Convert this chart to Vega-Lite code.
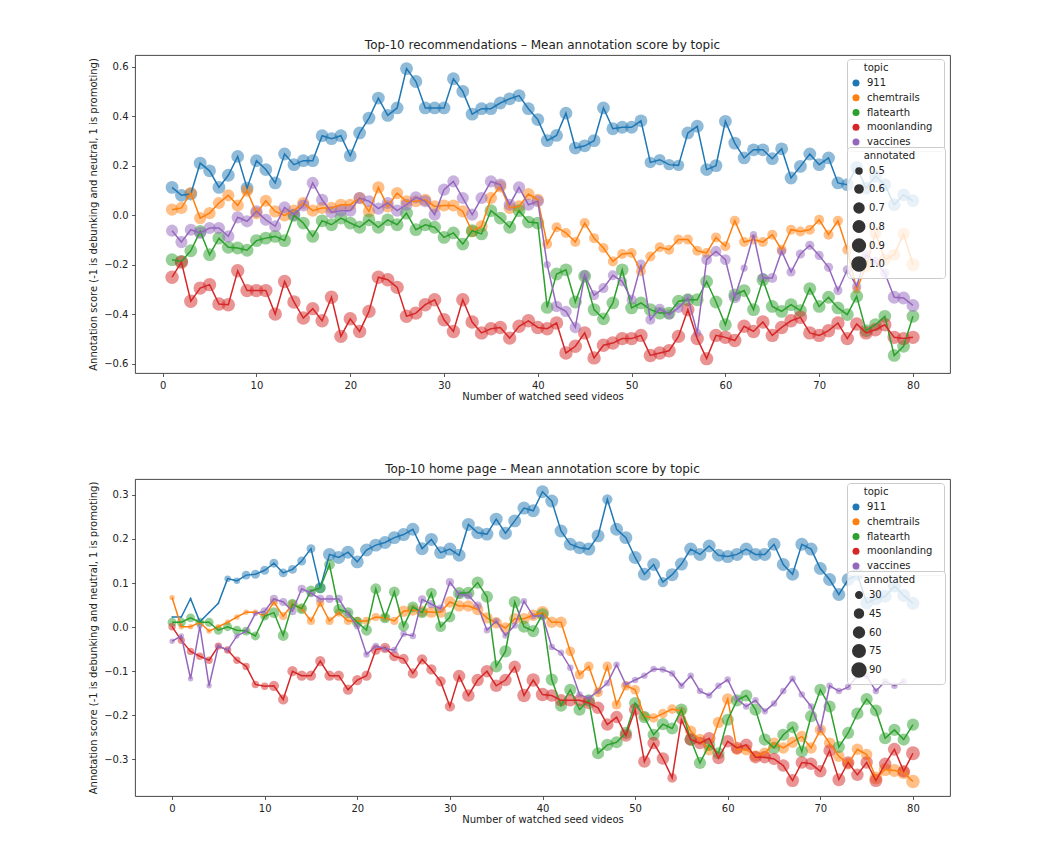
{
"$schema": "https://vega.github.io/schema/vega-lite/v6.json",
"background": "white",
"padding": {"left": 88, "top": 38, "right": 5, "bottom": 5},
"spacing": 60,
"resolve": {"scale": {"color": "independent", "size": "independent"}, "legend": {"color": "independent", "size": "independent"}},
"config": {
  "font": "DejaVu Sans",
  "view": {"stroke": "#333333", "strokeWidth": 0.9},
  "axis": {"domain": false, "grid": false, "tickColor": "#333333", "tickSize": 3.5, "tickWidth": 0.8, "labelFontSize": 10, "labelColor": "#222222", "labelPadding": 3.5, "titleFontSize": 10, "titleFontWeight": "normal", "titleColor": "#222222", "titlePadding": 1, "titleLimit": 1000, "labelFont": "DejaVu Sans", "titleFont": "DejaVu Sans"},
  "axisY": {"titlePadding": 5},
  "title": {"fontSize": 12, "fontWeight": "normal", "color": "#222222", "offset": 3, "font": "DejaVu Sans"},
  "legend": {"titleFontSize": 10, "titleFontWeight": "normal", "titleColor": "#222222", "labelFontSize": 10, "labelColor": "#222222", "labelFont": "DejaVu Sans", "titleFont": "DejaVu Sans", "fillColor": "rgba(255,255,255,0.8)", "strokeColor": "#cccccc", "cornerRadius": 3, "padding": 4, "titlePadding": 4, "labelLimit": 300, "titleLimit": 300}
},
"datasets": {
"top": [
{"topic":"911","n":1,"score":0.113,"annotated":0.9},{"topic":"911","n":2,"score":0.081,"annotated":0.9},{"topic":"911","n":3,"score":0.086,"annotated":0.9},{"topic":"911","n":4,"score":0.211,"annotated":0.9},{"topic":"911","n":5,"score":0.180,"annotated":0.9},{"topic":"911","n":6,"score":0.113,"annotated":0.9},{"topic":"911","n":7,"score":0.162,"annotated":0.9},{"topic":"911","n":8,"score":0.238,"annotated":0.9},{"topic":"911","n":9,"score":0.110,"annotated":0.9},{"topic":"911","n":10,"score":0.221,"annotated":0.9},
{"topic":"911","n":11,"score":0.185,"annotated":0.9},{"topic":"911","n":12,"score":0.131,"annotated":0.9},{"topic":"911","n":13,"score":0.248,"annotated":0.9},{"topic":"911","n":14,"score":0.205,"annotated":0.9},{"topic":"911","n":15,"score":0.221,"annotated":0.9},{"topic":"911","n":16,"score":0.221,"annotated":0.9},{"topic":"911","n":17,"score":0.322,"annotated":0.9},{"topic":"911","n":18,"score":0.310,"annotated":0.9},{"topic":"911","n":19,"score":0.322,"annotated":0.9},{"topic":"911","n":20,"score":0.241,"annotated":0.9},
{"topic":"911","n":21,"score":0.333,"annotated":0.9},{"topic":"911","n":22,"score":0.393,"annotated":0.9},{"topic":"911","n":23,"score":0.474,"annotated":0.9},{"topic":"911","n":24,"score":0.404,"annotated":0.9},{"topic":"911","n":25,"score":0.434,"annotated":0.9},{"topic":"911","n":26,"score":0.593,"annotated":0.9},{"topic":"911","n":27,"score":0.541,"annotated":0.9},{"topic":"911","n":28,"score":0.434,"annotated":0.9},{"topic":"911","n":29,"score":0.434,"annotated":0.9},{"topic":"911","n":30,"score":0.434,"annotated":0.9},
{"topic":"911","n":31,"score":0.552,"annotated":0.9},{"topic":"911","n":32,"score":0.501,"annotated":0.9},{"topic":"911","n":33,"score":0.409,"annotated":0.9},{"topic":"911","n":34,"score":0.431,"annotated":0.9},{"topic":"911","n":35,"score":0.431,"annotated":0.9},{"topic":"911","n":36,"score":0.454,"annotated":0.9},{"topic":"911","n":37,"score":0.471,"annotated":0.9},{"topic":"911","n":38,"score":0.484,"annotated":0.9},{"topic":"911","n":39,"score":0.431,"annotated":0.9},{"topic":"911","n":40,"score":0.387,"annotated":0.9},
{"topic":"911","n":41,"score":0.302,"annotated":0.9},{"topic":"911","n":42,"score":0.323,"annotated":0.9},{"topic":"911","n":43,"score":0.413,"annotated":0.9},{"topic":"911","n":44,"score":0.272,"annotated":0.9},{"topic":"911","n":45,"score":0.281,"annotated":0.9},{"topic":"911","n":46,"score":0.302,"annotated":0.9},{"topic":"911","n":47,"score":0.434,"annotated":0.9},{"topic":"911","n":48,"score":0.350,"annotated":0.9},{"topic":"911","n":49,"score":0.356,"annotated":0.9},{"topic":"911","n":50,"score":0.356,"annotated":0.9},
{"topic":"911","n":51,"score":0.382,"annotated":0.9},{"topic":"911","n":52,"score":0.214,"annotated":0.8},{"topic":"911","n":53,"score":0.225,"annotated":0.8},{"topic":"911","n":54,"score":0.205,"annotated":0.8},{"topic":"911","n":55,"score":0.202,"annotated":0.8},{"topic":"911","n":56,"score":0.333,"annotated":0.9},{"topic":"911","n":57,"score":0.360,"annotated":0.9},{"topic":"911","n":58,"score":0.185,"annotated":0.9},{"topic":"911","n":59,"score":0.201,"annotated":0.9},{"topic":"911","n":60,"score":0.380,"annotated":0.9},
{"topic":"911","n":61,"score":0.292,"annotated":0.9},{"topic":"911","n":62,"score":0.232,"annotated":0.9},{"topic":"911","n":63,"score":0.265,"annotated":0.9},{"topic":"911","n":64,"score":0.265,"annotated":0.9},{"topic":"911","n":65,"score":0.229,"annotated":0.9},{"topic":"911","n":66,"score":0.269,"annotated":0.9},{"topic":"911","n":67,"score":0.151,"annotated":0.9},{"topic":"911","n":68,"score":0.198,"annotated":0.9},{"topic":"911","n":69,"score":0.248,"annotated":0.9},{"topic":"911","n":70,"score":0.205,"annotated":0.9},
{"topic":"911","n":71,"score":0.232,"annotated":0.9},{"topic":"911","n":72,"score":0.131,"annotated":0.9},{"topic":"911","n":73,"score":0.124,"annotated":0.9},{"topic":"911","n":74,"score":0.194,"annotated":0.9},{"topic":"911","n":75,"score":0.110,"annotated":0.9},{"topic":"911","n":76,"score":0.158,"annotated":0.9},{"topic":"911","n":77,"score":0.124,"annotated":0.9},{"topic":"911","n":78,"score":0.043,"annotated":0.9},{"topic":"911","n":79,"score":0.083,"annotated":0.9},{"topic":"911","n":80,"score":0.059,"annotated":0.9},

{"topic":"chemtrails","n":1,"score":0.023,"annotated":0.85},{"topic":"chemtrails","n":2,"score":0.030,"annotated":0.85},{"topic":"chemtrails","n":3,"score":0.090,"annotated":0.85},{"topic":"chemtrails","n":4,"score":-0.011,"annotated":0.85},{"topic":"chemtrails","n":5,"score":0.009,"annotated":0.85},{"topic":"chemtrails","n":6,"score":0.050,"annotated":0.85},{"topic":"chemtrails","n":7,"score":0.081,"annotated":0.85},{"topic":"chemtrails","n":8,"score":0.040,"annotated":0.85},{"topic":"chemtrails","n":9,"score":0.100,"annotated":0.85},{"topic":"chemtrails","n":10,"score":0.009,"annotated":0.85},
{"topic":"chemtrails","n":11,"score":0.059,"annotated":0.85},{"topic":"chemtrails","n":12,"score":0.016,"annotated":0.85},{"topic":"chemtrails","n":13,"score":0.000,"annotated":0.85},{"topic":"chemtrails","n":14,"score":0.019,"annotated":0.85},{"topic":"chemtrails","n":15,"score":0.050,"annotated":0.85},{"topic":"chemtrails","n":16,"score":0.019,"annotated":0.85},{"topic":"chemtrails","n":17,"score":0.030,"annotated":0.85},{"topic":"chemtrails","n":18,"score":0.030,"annotated":0.85},{"topic":"chemtrails","n":19,"score":0.043,"annotated":0.85},{"topic":"chemtrails","n":20,"score":0.043,"annotated":0.85},
{"topic":"chemtrails","n":21,"score":0.070,"annotated":0.85},{"topic":"chemtrails","n":22,"score":0.016,"annotated":0.85},{"topic":"chemtrails","n":23,"score":0.113,"annotated":0.85},{"topic":"chemtrails","n":24,"score":0.036,"annotated":0.85},{"topic":"chemtrails","n":25,"score":0.090,"annotated":0.85},{"topic":"chemtrails","n":26,"score":0.057,"annotated":0.85},{"topic":"chemtrails","n":27,"score":0.057,"annotated":0.85},{"topic":"chemtrails","n":28,"score":0.063,"annotated":0.85},{"topic":"chemtrails","n":29,"score":0.036,"annotated":0.85},{"topic":"chemtrails","n":30,"score":0.040,"annotated":0.85},
{"topic":"chemtrails","n":31,"score":0.040,"annotated":0.85},{"topic":"chemtrails","n":32,"score":0.016,"annotated":0.85},{"topic":"chemtrails","n":33,"score":-0.065,"annotated":0.85},{"topic":"chemtrails","n":34,"score":-0.044,"annotated":0.85},{"topic":"chemtrails","n":35,"score":0.070,"annotated":0.85},{"topic":"chemtrails","n":36,"score":0.117,"annotated":0.85},{"topic":"chemtrails","n":37,"score":0.030,"annotated":0.85},{"topic":"chemtrails","n":38,"score":0.036,"annotated":0.85},{"topic":"chemtrails","n":39,"score":0.086,"annotated":0.85},{"topic":"chemtrails","n":40,"score":0.063,"annotated":0.85},
{"topic":"chemtrails","n":41,"score":-0.116,"annotated":0.7},{"topic":"chemtrails","n":42,"score":-0.048,"annotated":0.7},{"topic":"chemtrails","n":43,"score":-0.071,"annotated":0.7},{"topic":"chemtrails","n":44,"score":-0.108,"annotated":0.7},{"topic":"chemtrails","n":45,"score":-0.031,"annotated":0.7},{"topic":"chemtrails","n":46,"score":-0.092,"annotated":0.7},{"topic":"chemtrails","n":47,"score":-0.132,"annotated":0.7},{"topic":"chemtrails","n":48,"score":-0.186,"annotated":0.7},{"topic":"chemtrails","n":49,"score":-0.156,"annotated":0.7},{"topic":"chemtrails","n":50,"score":-0.152,"annotated":0.7},
{"topic":"chemtrails","n":51,"score":-0.226,"annotated":0.7},{"topic":"chemtrails","n":52,"score":-0.166,"annotated":0.7},{"topic":"chemtrails","n":53,"score":-0.129,"annotated":0.7},{"topic":"chemtrails","n":54,"score":-0.139,"annotated":0.7},{"topic":"chemtrails","n":55,"score":-0.098,"annotated":0.7},{"topic":"chemtrails","n":56,"score":-0.098,"annotated":0.7},{"topic":"chemtrails","n":57,"score":-0.143,"annotated":0.7},{"topic":"chemtrails","n":58,"score":-0.152,"annotated":0.7},{"topic":"chemtrails","n":59,"score":-0.089,"annotated":0.7},{"topic":"chemtrails","n":60,"score":-0.125,"annotated":0.7},
{"topic":"chemtrails","n":61,"score":-0.022,"annotated":0.7},{"topic":"chemtrails","n":62,"score":-0.108,"annotated":0.7},{"topic":"chemtrails","n":63,"score":-0.098,"annotated":0.7},{"topic":"chemtrails","n":64,"score":-0.108,"annotated":0.7},{"topic":"chemtrails","n":65,"score":-0.078,"annotated":0.7},{"topic":"chemtrails","n":66,"score":-0.139,"annotated":0.7},{"topic":"chemtrails","n":67,"score":-0.058,"annotated":0.7},{"topic":"chemtrails","n":68,"score":-0.065,"annotated":0.7},{"topic":"chemtrails","n":69,"score":-0.058,"annotated":0.7},{"topic":"chemtrails","n":70,"score":-0.018,"annotated":0.7},
{"topic":"chemtrails","n":71,"score":-0.078,"annotated":0.7},{"topic":"chemtrails","n":72,"score":-0.022,"annotated":0.7},{"topic":"chemtrails","n":73,"score":-0.139,"annotated":0.7},{"topic":"chemtrails","n":74,"score":-0.300,"annotated":0.6},{"topic":"chemtrails","n":75,"score":-0.206,"annotated":0.85},{"topic":"chemtrails","n":76,"score":-0.071,"annotated":0.85},{"topic":"chemtrails","n":77,"score":-0.179,"annotated":0.85},{"topic":"chemtrails","n":78,"score":-0.159,"annotated":0.85},{"topic":"chemtrails","n":79,"score":-0.075,"annotated":0.85},{"topic":"chemtrails","n":80,"score":-0.199,"annotated":0.95},

{"topic":"flatearth","n":1,"score":-0.179,"annotated":0.9},{"topic":"flatearth","n":2,"score":-0.186,"annotated":0.9},{"topic":"flatearth","n":3,"score":-0.143,"annotated":0.9},{"topic":"flatearth","n":4,"score":-0.065,"annotated":0.9},{"topic":"flatearth","n":5,"score":-0.159,"annotated":0.9},{"topic":"flatearth","n":6,"score":-0.092,"annotated":0.9},{"topic":"flatearth","n":7,"score":-0.129,"annotated":0.9},{"topic":"flatearth","n":8,"score":-0.132,"annotated":0.9},{"topic":"flatearth","n":9,"score":-0.141,"annotated":0.9},{"topic":"flatearth","n":10,"score":-0.102,"annotated":0.9},
{"topic":"flatearth","n":11,"score":-0.092,"annotated":0.9},{"topic":"flatearth","n":12,"score":-0.085,"annotated":0.9},{"topic":"flatearth","n":13,"score":-0.102,"annotated":0.9},{"topic":"flatearth","n":14,"score":0.000,"annotated":0.9},{"topic":"flatearth","n":15,"score":-0.031,"annotated":0.9},{"topic":"flatearth","n":16,"score":-0.085,"annotated":0.9},{"topic":"flatearth","n":17,"score":-0.022,"annotated":0.9},{"topic":"flatearth","n":18,"score":-0.038,"annotated":0.9},{"topic":"flatearth","n":19,"score":-0.011,"annotated":0.9},{"topic":"flatearth","n":20,"score":-0.031,"annotated":0.9},
{"topic":"flatearth","n":21,"score":-0.048,"annotated":0.9},{"topic":"flatearth","n":22,"score":-0.018,"annotated":0.9},{"topic":"flatearth","n":23,"score":-0.048,"annotated":0.9},{"topic":"flatearth","n":24,"score":-0.018,"annotated":0.9},{"topic":"flatearth","n":25,"score":-0.038,"annotated":0.9},{"topic":"flatearth","n":26,"score":0.009,"annotated":0.9},{"topic":"flatearth","n":27,"score":-0.058,"annotated":0.9},{"topic":"flatearth","n":28,"score":-0.038,"annotated":0.9},{"topic":"flatearth","n":29,"score":-0.048,"annotated":0.9},{"topic":"flatearth","n":30,"score":-0.089,"annotated":0.9},
{"topic":"flatearth","n":31,"score":-0.071,"annotated":0.9},{"topic":"flatearth","n":32,"score":-0.116,"annotated":0.9},{"topic":"flatearth","n":33,"score":-0.062,"annotated":0.9},{"topic":"flatearth","n":34,"score":-0.075,"annotated":0.9},{"topic":"flatearth","n":35,"score":0.019,"annotated":0.9},{"topic":"flatearth","n":36,"score":-0.011,"annotated":0.9},{"topic":"flatearth","n":37,"score":-0.048,"annotated":0.9},{"topic":"flatearth","n":38,"score":0.019,"annotated":0.9},{"topic":"flatearth","n":39,"score":-0.027,"annotated":0.9},{"topic":"flatearth","n":40,"score":-0.031,"annotated":0.9},
{"topic":"flatearth","n":41,"score":-0.372,"annotated":0.9},{"topic":"flatearth","n":42,"score":-0.237,"annotated":0.9},{"topic":"flatearth","n":43,"score":-0.220,"annotated":0.9},{"topic":"flatearth","n":44,"score":-0.350,"annotated":0.9},{"topic":"flatearth","n":45,"score":-0.246,"annotated":0.9},{"topic":"flatearth","n":46,"score":-0.381,"annotated":0.9},{"topic":"flatearth","n":47,"score":-0.418,"annotated":0.9},{"topic":"flatearth","n":48,"score":-0.354,"annotated":0.9},{"topic":"flatearth","n":49,"score":-0.220,"annotated":0.9},{"topic":"flatearth","n":50,"score":-0.374,"annotated":0.9},
{"topic":"flatearth","n":51,"score":-0.354,"annotated":0.9},{"topic":"flatearth","n":52,"score":-0.381,"annotated":0.9},{"topic":"flatearth","n":53,"score":-0.395,"annotated":0.9},{"topic":"flatearth","n":54,"score":-0.395,"annotated":0.9},{"topic":"flatearth","n":55,"score":-0.347,"annotated":0.9},{"topic":"flatearth","n":56,"score":-0.341,"annotated":0.9},{"topic":"flatearth","n":57,"score":-0.341,"annotated":0.9},{"topic":"flatearth","n":58,"score":-0.267,"annotated":0.9},{"topic":"flatearth","n":59,"score":-0.350,"annotated":0.9},{"topic":"flatearth","n":60,"score":-0.442,"annotated":0.9},
{"topic":"flatearth","n":61,"score":-0.321,"annotated":0.9},{"topic":"flatearth","n":62,"score":-0.304,"annotated":0.9},{"topic":"flatearth","n":63,"score":-0.381,"annotated":0.9},{"topic":"flatearth","n":64,"score":-0.260,"annotated":0.9},{"topic":"flatearth","n":65,"score":-0.368,"annotated":0.9},{"topic":"flatearth","n":66,"score":-0.388,"annotated":0.9},{"topic":"flatearth","n":67,"score":-0.361,"annotated":0.9},{"topic":"flatearth","n":68,"score":-0.385,"annotated":0.9},{"topic":"flatearth","n":69,"score":-0.296,"annotated":0.9},{"topic":"flatearth","n":70,"score":-0.368,"annotated":0.9},
{"topic":"flatearth","n":71,"score":-0.331,"annotated":0.9},{"topic":"flatearth","n":72,"score":-0.374,"annotated":0.9},{"topic":"flatearth","n":73,"score":-0.401,"annotated":0.9},{"topic":"flatearth","n":74,"score":-0.327,"annotated":0.9},{"topic":"flatearth","n":75,"score":-0.466,"annotated":0.9},{"topic":"flatearth","n":76,"score":-0.442,"annotated":0.9},{"topic":"flatearth","n":77,"score":-0.408,"annotated":0.9},{"topic":"flatearth","n":78,"score":-0.566,"annotated":0.9},{"topic":"flatearth","n":79,"score":-0.529,"annotated":0.9},{"topic":"flatearth","n":80,"score":-0.408,"annotated":0.9},

{"topic":"moonlanding","n":1,"score":-0.250,"annotated":0.95},{"topic":"moonlanding","n":2,"score":-0.189,"annotated":0.95},{"topic":"moonlanding","n":3,"score":-0.347,"annotated":0.95},{"topic":"moonlanding","n":4,"score":-0.294,"annotated":0.95},{"topic":"moonlanding","n":5,"score":-0.280,"annotated":0.95},{"topic":"moonlanding","n":6,"score":-0.358,"annotated":0.95},{"topic":"moonlanding","n":7,"score":-0.361,"annotated":0.95},{"topic":"moonlanding","n":8,"score":-0.224,"annotated":0.95},{"topic":"moonlanding","n":9,"score":-0.304,"annotated":0.95},{"topic":"moonlanding","n":10,"score":-0.304,"annotated":0.95},
{"topic":"moonlanding","n":11,"score":-0.304,"annotated":0.95},{"topic":"moonlanding","n":12,"score":-0.399,"annotated":0.95},{"topic":"moonlanding","n":13,"score":-0.267,"annotated":0.95},{"topic":"moonlanding","n":14,"score":-0.350,"annotated":0.95},{"topic":"moonlanding","n":15,"score":-0.415,"annotated":0.95},{"topic":"moonlanding","n":16,"score":-0.377,"annotated":0.95},{"topic":"moonlanding","n":17,"score":-0.426,"annotated":0.95},{"topic":"moonlanding","n":18,"score":-0.331,"annotated":0.95},{"topic":"moonlanding","n":19,"score":-0.489,"annotated":0.95},{"topic":"moonlanding","n":20,"score":-0.418,"annotated":0.95},
{"topic":"moonlanding","n":21,"score":-0.469,"annotated":0.95},{"topic":"moonlanding","n":22,"score":-0.388,"annotated":0.95},{"topic":"moonlanding","n":23,"score":-0.250,"annotated":0.95},{"topic":"moonlanding","n":24,"score":-0.260,"annotated":0.95},{"topic":"moonlanding","n":25,"score":-0.291,"annotated":0.95},{"topic":"moonlanding","n":26,"score":-0.408,"annotated":0.95},{"topic":"moonlanding","n":27,"score":-0.395,"annotated":0.95},{"topic":"moonlanding","n":28,"score":-0.361,"annotated":0.95},{"topic":"moonlanding","n":29,"score":-0.341,"annotated":0.95},{"topic":"moonlanding","n":30,"score":-0.422,"annotated":0.95},
{"topic":"moonlanding","n":31,"score":-0.469,"annotated":0.95},{"topic":"moonlanding","n":32,"score":-0.341,"annotated":0.95},{"topic":"moonlanding","n":33,"score":-0.431,"annotated":0.95},{"topic":"moonlanding","n":34,"score":-0.475,"annotated":0.95},{"topic":"moonlanding","n":35,"score":-0.458,"annotated":0.95},{"topic":"moonlanding","n":36,"score":-0.453,"annotated":0.95},{"topic":"moonlanding","n":37,"score":-0.496,"annotated":0.95},{"topic":"moonlanding","n":38,"score":-0.448,"annotated":0.95},{"topic":"moonlanding","n":39,"score":-0.426,"annotated":0.95},{"topic":"moonlanding","n":40,"score":-0.453,"annotated":0.95},
{"topic":"moonlanding","n":41,"score":-0.458,"annotated":0.95},{"topic":"moonlanding","n":42,"score":-0.435,"annotated":0.95},{"topic":"moonlanding","n":43,"score":-0.556,"annotated":0.95},{"topic":"moonlanding","n":44,"score":-0.529,"annotated":0.95},{"topic":"moonlanding","n":45,"score":-0.475,"annotated":0.95},{"topic":"moonlanding","n":46,"score":-0.576,"annotated":0.95},{"topic":"moonlanding","n":47,"score":-0.525,"annotated":0.95},{"topic":"moonlanding","n":48,"score":-0.516,"annotated":0.95},{"topic":"moonlanding","n":49,"score":-0.498,"annotated":0.95},{"topic":"moonlanding","n":50,"score":-0.498,"annotated":0.95},
{"topic":"moonlanding","n":51,"score":-0.485,"annotated":0.95},{"topic":"moonlanding","n":52,"score":-0.566,"annotated":0.95},{"topic":"moonlanding","n":53,"score":-0.556,"annotated":0.95},{"topic":"moonlanding","n":54,"score":-0.547,"annotated":0.95},{"topic":"moonlanding","n":55,"score":-0.489,"annotated":0.95},{"topic":"moonlanding","n":56,"score":-0.381,"annotated":0.95},{"topic":"moonlanding","n":57,"score":-0.498,"annotated":0.95},{"topic":"moonlanding","n":58,"score":-0.579,"annotated":0.95},{"topic":"moonlanding","n":59,"score":-0.485,"annotated":0.95},{"topic":"moonlanding","n":60,"score":-0.493,"annotated":0.95},
{"topic":"moonlanding","n":61,"score":-0.506,"annotated":0.95},{"topic":"moonlanding","n":62,"score":-0.448,"annotated":0.95},{"topic":"moonlanding","n":63,"score":-0.469,"annotated":0.95},{"topic":"moonlanding","n":64,"score":-0.431,"annotated":0.95},{"topic":"moonlanding","n":65,"score":-0.485,"annotated":0.95},{"topic":"moonlanding","n":66,"score":-0.453,"annotated":0.95},{"topic":"moonlanding","n":67,"score":-0.426,"annotated":0.95},{"topic":"moonlanding","n":68,"score":-0.412,"annotated":0.95},{"topic":"moonlanding","n":69,"score":-0.475,"annotated":0.95},{"topic":"moonlanding","n":70,"score":-0.485,"annotated":0.95},
{"topic":"moonlanding","n":71,"score":-0.466,"annotated":0.95},{"topic":"moonlanding","n":72,"score":-0.435,"annotated":0.95},{"topic":"moonlanding","n":73,"score":-0.498,"annotated":0.95},{"topic":"moonlanding","n":74,"score":-0.439,"annotated":0.95},{"topic":"moonlanding","n":75,"score":-0.475,"annotated":0.95},{"topic":"moonlanding","n":76,"score":-0.462,"annotated":0.95},{"topic":"moonlanding","n":77,"score":-0.442,"annotated":0.95},{"topic":"moonlanding","n":78,"score":-0.493,"annotated":0.95},{"topic":"moonlanding","n":79,"score":-0.498,"annotated":0.95},{"topic":"moonlanding","n":80,"score":-0.493,"annotated":0.95},

{"topic":"vaccines","n":1,"score":-0.062,"annotated":0.85},{"topic":"vaccines","n":2,"score":-0.108,"annotated":0.85},{"topic":"vaccines","n":3,"score":-0.058,"annotated":0.85},{"topic":"vaccines","n":4,"score":-0.071,"annotated":0.85},{"topic":"vaccines","n":5,"score":-0.051,"annotated":0.85},{"topic":"vaccines","n":6,"score":-0.051,"annotated":0.85},{"topic":"vaccines","n":7,"score":-0.085,"annotated":0.85},{"topic":"vaccines","n":8,"score":-0.008,"annotated":0.85},{"topic":"vaccines","n":9,"score":-0.024,"annotated":0.85},{"topic":"vaccines","n":10,"score":0.016,"annotated":0.85},
{"topic":"vaccines","n":11,"score":-0.018,"annotated":0.85},{"topic":"vaccines","n":12,"score":-0.044,"annotated":0.85},{"topic":"vaccines","n":13,"score":0.032,"annotated":0.85},{"topic":"vaccines","n":14,"score":0.003,"annotated":0.85},{"topic":"vaccines","n":15,"score":0.040,"annotated":0.85},{"topic":"vaccines","n":16,"score":0.131,"annotated":0.85},{"topic":"vaccines","n":17,"score":0.063,"annotated":0.85},{"topic":"vaccines","n":18,"score":0.013,"annotated":0.85},{"topic":"vaccines","n":19,"score":0.019,"annotated":0.85},{"topic":"vaccines","n":20,"score":0.019,"annotated":0.85},
{"topic":"vaccines","n":21,"score":0.070,"annotated":0.85},{"topic":"vaccines","n":22,"score":0.057,"annotated":0.85},{"topic":"vaccines","n":23,"score":0.027,"annotated":0.85},{"topic":"vaccines","n":24,"score":0.050,"annotated":0.85},{"topic":"vaccines","n":25,"score":0.019,"annotated":0.85},{"topic":"vaccines","n":26,"score":0.043,"annotated":0.85},{"topic":"vaccines","n":27,"score":0.073,"annotated":0.85},{"topic":"vaccines","n":28,"score":0.057,"annotated":0.85},{"topic":"vaccines","n":29,"score":0.003,"annotated":0.85},{"topic":"vaccines","n":30,"score":0.104,"annotated":0.85},
{"topic":"vaccines","n":31,"score":0.137,"annotated":0.85},{"topic":"vaccines","n":32,"score":0.070,"annotated":0.85},{"topic":"vaccines","n":33,"score":0.003,"annotated":0.85},{"topic":"vaccines","n":34,"score":0.070,"annotated":0.85},{"topic":"vaccines","n":35,"score":0.137,"annotated":0.85},{"topic":"vaccines","n":36,"score":0.124,"annotated":0.85},{"topic":"vaccines","n":37,"score":0.043,"annotated":0.85},{"topic":"vaccines","n":38,"score":0.113,"annotated":0.85},{"topic":"vaccines","n":39,"score":0.043,"annotated":0.85},{"topic":"vaccines","n":40,"score":0.057,"annotated":0.85},
{"topic":"vaccines","n":41,"score":-0.199,"annotated":0.55},{"topic":"vaccines","n":42,"score":-0.368,"annotated":0.8},{"topic":"vaccines","n":43,"score":-0.388,"annotated":0.8},{"topic":"vaccines","n":44,"score":-0.453,"annotated":0.8},{"topic":"vaccines","n":45,"score":-0.242,"annotated":0.7},{"topic":"vaccines","n":46,"score":-0.323,"annotated":0.7},{"topic":"vaccines","n":47,"score":-0.294,"annotated":0.7},{"topic":"vaccines","n":48,"score":-0.242,"annotated":0.7},{"topic":"vaccines","n":49,"score":-0.267,"annotated":0.7},{"topic":"vaccines","n":50,"score":-0.341,"annotated":0.7},
{"topic":"vaccines","n":51,"score":-0.199,"annotated":0.7},{"topic":"vaccines","n":52,"score":-0.422,"annotated":0.7},{"topic":"vaccines","n":53,"score":-0.377,"annotated":0.7},{"topic":"vaccines","n":54,"score":-0.401,"annotated":0.7},{"topic":"vaccines","n":55,"score":-0.374,"annotated":0.7},{"topic":"vaccines","n":56,"score":-0.334,"annotated":0.6},{"topic":"vaccines","n":57,"score":-0.475,"annotated":0.6},{"topic":"vaccines","n":58,"score":-0.179,"annotated":0.75},{"topic":"vaccines","n":59,"score":-0.145,"annotated":0.75},{"topic":"vaccines","n":60,"score":-0.179,"annotated":0.75},
{"topic":"vaccines","n":61,"score":-0.331,"annotated":0.85},{"topic":"vaccines","n":62,"score":-0.213,"annotated":0.55},{"topic":"vaccines","n":63,"score":-0.078,"annotated":0.55},{"topic":"vaccines","n":64,"score":-0.253,"annotated":0.7},{"topic":"vaccines","n":65,"score":-0.253,"annotated":0.7},{"topic":"vaccines","n":66,"score":-0.145,"annotated":0.65},{"topic":"vaccines","n":67,"score":-0.229,"annotated":0.65},{"topic":"vaccines","n":68,"score":-0.156,"annotated":0.65},{"topic":"vaccines","n":69,"score":-0.121,"annotated":0.65},{"topic":"vaccines","n":70,"score":-0.162,"annotated":0.65},
{"topic":"vaccines","n":71,"score":-0.210,"annotated":0.65},{"topic":"vaccines","n":72,"score":-0.304,"annotated":0.65},{"topic":"vaccines","n":73,"score":-0.220,"annotated":0.65},{"topic":"vaccines","n":74,"score":-0.287,"annotated":0.65},{"topic":"vaccines","n":75,"score":-0.159,"annotated":0.65},{"topic":"vaccines","n":76,"score":-0.186,"annotated":0.65},{"topic":"vaccines","n":77,"score":-0.233,"annotated":0.65},{"topic":"vaccines","n":78,"score":-0.331,"annotated":0.9},{"topic":"vaccines","n":79,"score":-0.334,"annotated":0.9},{"topic":"vaccines","n":80,"score":-0.364,"annotated":0.9}
],
"bottom": [
{"topic":"911","n":0,"score":0.023,"annotated":15},{"topic":"911","n":1,"score":0.023,"annotated":15},{"topic":"911","n":2,"score":0.065,"annotated":15},{"topic":"911","n":3,"score":0.012,"annotated":15},{"topic":"911","n":4,"score":0.033,"annotated":15},{"topic":"911","n":5,"score":0.054,"annotated":15},{"topic":"911","n":6,"score":0.110,"annotated":30},{"topic":"911","n":7,"score":0.105,"annotated":30},{"topic":"911","n":8,"score":0.118,"annotated":45},{"topic":"911","n":9,"score":0.120,"annotated":45},
{"topic":"911","n":10,"score":0.129,"annotated":45},{"topic":"911","n":11,"score":0.145,"annotated":45},{"topic":"911","n":12,"score":0.123,"annotated":45},{"topic":"911","n":13,"score":0.131,"annotated":45},{"topic":"911","n":14,"score":0.150,"annotated":45},{"topic":"911","n":15,"score":0.178,"annotated":45},{"topic":"911","n":16,"score":0.089,"annotated":60},{"topic":"911","n":17,"score":0.165,"annotated":80},{"topic":"911","n":18,"score":0.158,"annotated":80},{"topic":"911","n":19,"score":0.170,"annotated":80},
{"topic":"911","n":20,"score":0.148,"annotated":80},{"topic":"911","n":21,"score":0.175,"annotated":80},{"topic":"911","n":22,"score":0.186,"annotated":80},{"topic":"911","n":23,"score":0.192,"annotated":80},{"topic":"911","n":24,"score":0.203,"annotated":80},{"topic":"911","n":25,"score":0.210,"annotated":80},{"topic":"911","n":26,"score":0.222,"annotated":80},{"topic":"911","n":27,"score":0.178,"annotated":80},{"topic":"911","n":28,"score":0.199,"annotated":80},{"topic":"911","n":29,"score":0.169,"annotated":80},
{"topic":"911","n":30,"score":0.177,"annotated":80},{"topic":"911","n":31,"score":0.163,"annotated":80},{"topic":"911","n":32,"score":0.233,"annotated":80},{"topic":"911","n":33,"score":0.214,"annotated":80},{"topic":"911","n":34,"score":0.211,"annotated":80},{"topic":"911","n":35,"score":0.245,"annotated":80},{"topic":"911","n":36,"score":0.213,"annotated":80},{"topic":"911","n":37,"score":0.241,"annotated":80},{"topic":"911","n":38,"score":0.270,"annotated":80},{"topic":"911","n":39,"score":0.264,"annotated":80},
{"topic":"911","n":40,"score":0.307,"annotated":80},{"topic":"911","n":41,"score":0.286,"annotated":80},{"topic":"911","n":42,"score":0.218,"annotated":80},{"topic":"911","n":43,"score":0.188,"annotated":80},{"topic":"911","n":44,"score":0.180,"annotated":80},{"topic":"911","n":45,"score":0.177,"annotated":80},{"topic":"911","n":46,"score":0.207,"annotated":80},{"topic":"911","n":47,"score":0.290,"annotated":55},{"topic":"911","n":48,"score":0.222,"annotated":80},{"topic":"911","n":49,"score":0.203,"annotated":80},
{"topic":"911","n":50,"score":0.158,"annotated":80},{"topic":"911","n":51,"score":0.120,"annotated":80},{"topic":"911","n":52,"score":0.142,"annotated":80},{"topic":"911","n":53,"score":0.102,"annotated":55},{"topic":"911","n":54,"score":0.119,"annotated":80},{"topic":"911","n":55,"score":0.143,"annotated":80},{"topic":"911","n":56,"score":0.177,"annotated":80},{"topic":"911","n":57,"score":0.165,"annotated":80},{"topic":"911","n":58,"score":0.184,"annotated":80},{"topic":"911","n":59,"score":0.163,"annotated":80},
{"topic":"911","n":60,"score":0.160,"annotated":80},{"topic":"911","n":61,"score":0.165,"annotated":80},{"topic":"911","n":62,"score":0.177,"annotated":80},{"topic":"911","n":63,"score":0.165,"annotated":80},{"topic":"911","n":64,"score":0.165,"annotated":80},{"topic":"911","n":65,"score":0.188,"annotated":80},{"topic":"911","n":66,"score":0.142,"annotated":80},{"topic":"911","n":67,"score":0.120,"annotated":80},{"topic":"911","n":68,"score":0.188,"annotated":80},{"topic":"911","n":69,"score":0.177,"annotated":80},
{"topic":"911","n":70,"score":0.133,"annotated":80},{"topic":"911","n":71,"score":0.108,"annotated":80},{"topic":"911","n":72,"score":0.074,"annotated":80},{"topic":"911","n":73,"score":0.108,"annotated":80},{"topic":"911","n":74,"score":0.120,"annotated":80},{"topic":"911","n":75,"score":0.055,"annotated":80},{"topic":"911","n":76,"score":0.064,"annotated":80},{"topic":"911","n":77,"score":0.070,"annotated":80},{"topic":"911","n":78,"score":0.093,"annotated":80},{"topic":"911","n":79,"score":0.072,"annotated":80},{"topic":"911","n":80,"score":0.054,"annotated":80},

{"topic":"chemtrails","n":0,"score":0.067,"annotated":25},{"topic":"chemtrails","n":1,"score":0.001,"annotated":25},{"topic":"chemtrails","n":2,"score":0.001,"annotated":25},{"topic":"chemtrails","n":3,"score":0.011,"annotated":25},{"topic":"chemtrails","n":4,"score":-0.009,"annotated":25},{"topic":"chemtrails","n":5,"score":0.001,"annotated":25},{"topic":"chemtrails","n":6,"score":0.011,"annotated":25},{"topic":"chemtrails","n":7,"score":0.023,"annotated":25},{"topic":"chemtrails","n":8,"score":0.034,"annotated":25},{"topic":"chemtrails","n":9,"score":0.034,"annotated":25},
{"topic":"chemtrails","n":10,"score":0.025,"annotated":25},{"topic":"chemtrails","n":11,"score":0.057,"annotated":40},{"topic":"chemtrails","n":12,"score":0.025,"annotated":40},{"topic":"chemtrails","n":13,"score":0.052,"annotated":40},{"topic":"chemtrails","n":14,"score":0.042,"annotated":40},{"topic":"chemtrails","n":15,"score":0.014,"annotated":40},{"topic":"chemtrails","n":16,"score":0.055,"annotated":40},{"topic":"chemtrails","n":17,"score":0.014,"annotated":40},{"topic":"chemtrails","n":18,"score":0.033,"annotated":40},{"topic":"chemtrails","n":19,"score":0.014,"annotated":40},
{"topic":"chemtrails","n":20,"score":0.014,"annotated":40},{"topic":"chemtrails","n":21,"score":0.014,"annotated":40},{"topic":"chemtrails","n":22,"score":0.023,"annotated":40},{"topic":"chemtrails","n":23,"score":0.021,"annotated":40},{"topic":"chemtrails","n":24,"score":0.014,"annotated":40},{"topic":"chemtrails","n":25,"score":0.036,"annotated":65},{"topic":"chemtrails","n":26,"score":0.039,"annotated":65},{"topic":"chemtrails","n":27,"score":0.036,"annotated":65},{"topic":"chemtrails","n":28,"score":0.034,"annotated":65},{"topic":"chemtrails","n":29,"score":0.034,"annotated":65},
{"topic":"chemtrails","n":30,"score":0.057,"annotated":65},{"topic":"chemtrails","n":31,"score":0.048,"annotated":65},{"topic":"chemtrails","n":32,"score":0.048,"annotated":65},{"topic":"chemtrails","n":33,"score":0.040,"annotated":65},{"topic":"chemtrails","n":34,"score":0.021,"annotated":65},{"topic":"chemtrails","n":35,"score":0.010,"annotated":65},{"topic":"chemtrails","n":36,"score":-0.002,"annotated":65},{"topic":"chemtrails","n":37,"score":0.019,"annotated":65},{"topic":"chemtrails","n":38,"score":0.019,"annotated":65},{"topic":"chemtrails","n":39,"score":0.027,"annotated":65},
{"topic":"chemtrails","n":40,"score":0.033,"annotated":80},{"topic":"chemtrails","n":41,"score":0.011,"annotated":65},{"topic":"chemtrails","n":42,"score":0.011,"annotated":65},{"topic":"chemtrails","n":43,"score":-0.055,"annotated":50},{"topic":"chemtrails","n":44,"score":-0.108,"annotated":50},{"topic":"chemtrails","n":45,"score":-0.089,"annotated":50},{"topic":"chemtrails","n":46,"score":-0.148,"annotated":50},{"topic":"chemtrails","n":47,"score":-0.089,"annotated":50},{"topic":"chemtrails","n":48,"score":-0.176,"annotated":50},{"topic":"chemtrails","n":49,"score":-0.133,"annotated":50},
{"topic":"chemtrails","n":50,"score":-0.142,"annotated":50},{"topic":"chemtrails","n":51,"score":-0.202,"annotated":50},{"topic":"chemtrails","n":52,"score":-0.206,"annotated":50},{"topic":"chemtrails","n":53,"score":-0.196,"annotated":50},{"topic":"chemtrails","n":54,"score":-0.186,"annotated":50},{"topic":"chemtrails","n":55,"score":-0.191,"annotated":50},{"topic":"chemtrails","n":56,"score":-0.236,"annotated":65},{"topic":"chemtrails","n":57,"score":-0.255,"annotated":65},{"topic":"chemtrails","n":58,"score":-0.278,"annotated":65},{"topic":"chemtrails","n":59,"score":-0.216,"annotated":65},
{"topic":"chemtrails","n":60,"score":-0.163,"annotated":65},{"topic":"chemtrails","n":61,"score":-0.277,"annotated":65},{"topic":"chemtrails","n":62,"score":-0.278,"annotated":65},{"topic":"chemtrails","n":63,"score":-0.292,"annotated":65},{"topic":"chemtrails","n":64,"score":-0.286,"annotated":65},{"topic":"chemtrails","n":65,"score":-0.263,"annotated":65},{"topic":"chemtrails","n":66,"score":-0.274,"annotated":65},{"topic":"chemtrails","n":67,"score":-0.261,"annotated":65},{"topic":"chemtrails","n":68,"score":-0.248,"annotated":65},{"topic":"chemtrails","n":69,"score":-0.274,"annotated":65},
{"topic":"chemtrails","n":70,"score":-0.233,"annotated":65},{"topic":"chemtrails","n":71,"score":-0.263,"annotated":65},{"topic":"chemtrails","n":72,"score":-0.293,"annotated":65},{"topic":"chemtrails","n":73,"score":-0.310,"annotated":65},{"topic":"chemtrails","n":74,"score":-0.277,"annotated":65},{"topic":"chemtrails","n":75,"score":-0.289,"annotated":65},{"topic":"chemtrails","n":76,"score":-0.342,"annotated":80},{"topic":"chemtrails","n":77,"score":-0.323,"annotated":80},{"topic":"chemtrails","n":78,"score":-0.325,"annotated":80},{"topic":"chemtrails","n":79,"score":-0.330,"annotated":80},{"topic":"chemtrails","n":80,"score":-0.350,"annotated":85},

{"topic":"flatearth","n":0,"score":0.011,"annotated":45},{"topic":"flatearth","n":1,"score":0.011,"annotated":45},{"topic":"flatearth","n":2,"score":0.021,"annotated":45},{"topic":"flatearth","n":3,"score":0.011,"annotated":45},{"topic":"flatearth","n":4,"score":0.011,"annotated":45},{"topic":"flatearth","n":5,"score":-0.007,"annotated":45},{"topic":"flatearth","n":6,"score":0.001,"annotated":45},{"topic":"flatearth","n":7,"score":-0.007,"annotated":45},{"topic":"flatearth","n":8,"score":-0.009,"annotated":45},{"topic":"flatearth","n":9,"score":-0.020,"annotated":45},
{"topic":"flatearth","n":10,"score":0.025,"annotated":45},{"topic":"flatearth","n":11,"score":0.033,"annotated":60},{"topic":"flatearth","n":12,"score":-0.019,"annotated":60},{"topic":"flatearth","n":13,"score":0.052,"annotated":60},{"topic":"flatearth","n":14,"score":0.042,"annotated":60},{"topic":"flatearth","n":15,"score":0.082,"annotated":60},{"topic":"flatearth","n":16,"score":0.089,"annotated":60},{"topic":"flatearth","n":17,"score":0.142,"annotated":60},{"topic":"flatearth","n":18,"score":0.040,"annotated":60},{"topic":"flatearth","n":19,"score":0.033,"annotated":60},
{"topic":"flatearth","n":20,"score":0.011,"annotated":60},{"topic":"flatearth","n":21,"score":-0.007,"annotated":60},{"topic":"flatearth","n":22,"score":0.087,"annotated":60},{"topic":"flatearth","n":23,"score":0.021,"annotated":60},{"topic":"flatearth","n":24,"score":0.080,"annotated":60},{"topic":"flatearth","n":25,"score":0.002,"annotated":60},{"topic":"flatearth","n":26,"score":0.046,"annotated":60},{"topic":"flatearth","n":27,"score":0.033,"annotated":60},{"topic":"flatearth","n":28,"score":0.077,"annotated":60},{"topic":"flatearth","n":29,"score":0.001,"annotated":60},
{"topic":"flatearth","n":30,"score":0.023,"annotated":60},{"topic":"flatearth","n":31,"score":0.077,"annotated":72},{"topic":"flatearth","n":32,"score":0.078,"annotated":72},{"topic":"flatearth","n":33,"score":0.101,"annotated":72},{"topic":"flatearth","n":34,"score":0.069,"annotated":72},{"topic":"flatearth","n":35,"score":-0.089,"annotated":72},{"topic":"flatearth","n":36,"score":-0.055,"annotated":72},{"topic":"flatearth","n":37,"score":0.057,"annotated":72},{"topic":"flatearth","n":38,"score":0.001,"annotated":72},{"topic":"flatearth","n":39,"score":-0.009,"annotated":72},
{"topic":"flatearth","n":40,"score":0.029,"annotated":72},{"topic":"flatearth","n":41,"score":-0.119,"annotated":72},{"topic":"flatearth","n":42,"score":-0.178,"annotated":72},{"topic":"flatearth","n":43,"score":-0.142,"annotated":72},{"topic":"flatearth","n":44,"score":-0.187,"annotated":72},{"topic":"flatearth","n":45,"score":-0.166,"annotated":72},{"topic":"flatearth","n":46,"score":-0.286,"annotated":72},{"topic":"flatearth","n":47,"score":-0.267,"annotated":72},{"topic":"flatearth","n":48,"score":-0.261,"annotated":72},{"topic":"flatearth","n":49,"score":-0.240,"annotated":72},
{"topic":"flatearth","n":50,"score":-0.172,"annotated":72},{"topic":"flatearth","n":51,"score":-0.204,"annotated":72},{"topic":"flatearth","n":52,"score":-0.244,"annotated":72},{"topic":"flatearth","n":53,"score":-0.220,"annotated":72},{"topic":"flatearth","n":54,"score":-0.230,"annotated":72},{"topic":"flatearth","n":55,"score":-0.187,"annotated":72},{"topic":"flatearth","n":56,"score":-0.255,"annotated":72},{"topic":"flatearth","n":57,"score":-0.308,"annotated":72},{"topic":"flatearth","n":58,"score":-0.267,"annotated":72},{"topic":"flatearth","n":59,"score":-0.286,"annotated":72},
{"topic":"flatearth","n":60,"score":-0.210,"annotated":72},{"topic":"flatearth","n":61,"score":-0.166,"annotated":72},{"topic":"flatearth","n":62,"score":-0.155,"annotated":72},{"topic":"flatearth","n":63,"score":-0.187,"annotated":72},{"topic":"flatearth","n":64,"score":-0.255,"annotated":72},{"topic":"flatearth","n":65,"score":-0.274,"annotated":72},{"topic":"flatearth","n":66,"score":-0.244,"annotated":72},{"topic":"flatearth","n":67,"score":-0.227,"annotated":72},{"topic":"flatearth","n":68,"score":-0.282,"annotated":72},{"topic":"flatearth","n":69,"score":-0.202,"annotated":72},
{"topic":"flatearth","n":70,"score":-0.142,"annotated":72},{"topic":"flatearth","n":71,"score":-0.180,"annotated":72},{"topic":"flatearth","n":72,"score":-0.272,"annotated":72},{"topic":"flatearth","n":73,"score":-0.240,"annotated":72},{"topic":"flatearth","n":74,"score":-0.196,"annotated":72},{"topic":"flatearth","n":75,"score":-0.163,"annotated":72},{"topic":"flatearth","n":76,"score":-0.189,"annotated":72},{"topic":"flatearth","n":77,"score":-0.252,"annotated":72},{"topic":"flatearth","n":78,"score":-0.233,"annotated":72},{"topic":"flatearth","n":79,"score":-0.255,"annotated":72},{"topic":"flatearth","n":80,"score":-0.221,"annotated":72},

{"topic":"moonlanding","n":0,"score":0.001,"annotated":35},{"topic":"moonlanding","n":1,"score":-0.030,"annotated":35},{"topic":"moonlanding","n":2,"score":-0.055,"annotated":35},{"topic":"moonlanding","n":3,"score":-0.066,"annotated":35},{"topic":"moonlanding","n":4,"score":-0.075,"annotated":35},{"topic":"moonlanding","n":5,"score":-0.043,"annotated":35},{"topic":"moonlanding","n":6,"score":-0.052,"annotated":35},{"topic":"moonlanding","n":7,"score":-0.075,"annotated":35},{"topic":"moonlanding","n":8,"score":-0.089,"annotated":35},{"topic":"moonlanding","n":9,"score":-0.130,"annotated":35},
{"topic":"moonlanding","n":10,"score":-0.134,"annotated":35},{"topic":"moonlanding","n":11,"score":-0.133,"annotated":55},{"topic":"moonlanding","n":12,"score":-0.164,"annotated":55},{"topic":"moonlanding","n":13,"score":-0.100,"annotated":55},{"topic":"moonlanding","n":14,"score":-0.110,"annotated":55},{"topic":"moonlanding","n":15,"score":-0.110,"annotated":55},{"topic":"moonlanding","n":16,"score":-0.077,"annotated":55},{"topic":"moonlanding","n":17,"score":-0.110,"annotated":55},{"topic":"moonlanding","n":18,"score":-0.110,"annotated":55},{"topic":"moonlanding","n":19,"score":-0.142,"annotated":55},
{"topic":"moonlanding","n":20,"score":-0.120,"annotated":55},{"topic":"moonlanding","n":21,"score":-0.110,"annotated":55},{"topic":"moonlanding","n":22,"score":-0.051,"annotated":55},{"topic":"moonlanding","n":23,"score":-0.047,"annotated":55},{"topic":"moonlanding","n":24,"score":-0.066,"annotated":55},{"topic":"moonlanding","n":25,"score":-0.072,"annotated":55},{"topic":"moonlanding","n":26,"score":-0.105,"annotated":55},{"topic":"moonlanding","n":27,"score":-0.073,"annotated":55},{"topic":"moonlanding","n":28,"score":-0.096,"annotated":55},{"topic":"moonlanding","n":29,"score":-0.123,"annotated":55},
{"topic":"moonlanding","n":30,"score":-0.180,"annotated":55},{"topic":"moonlanding","n":31,"score":-0.111,"annotated":75},{"topic":"moonlanding","n":32,"score":-0.155,"annotated":75},{"topic":"moonlanding","n":33,"score":-0.120,"annotated":75},{"topic":"moonlanding","n":34,"score":-0.100,"annotated":75},{"topic":"moonlanding","n":35,"score":-0.133,"annotated":75},{"topic":"moonlanding","n":36,"score":-0.120,"annotated":75},{"topic":"moonlanding","n":37,"score":-0.090,"annotated":75},{"topic":"moonlanding","n":38,"score":-0.155,"annotated":85},{"topic":"moonlanding","n":39,"score":-0.120,"annotated":85},
{"topic":"moonlanding","n":40,"score":-0.153,"annotated":85},{"topic":"moonlanding","n":41,"score":-0.155,"annotated":75},{"topic":"moonlanding","n":42,"score":-0.166,"annotated":75},{"topic":"moonlanding","n":43,"score":-0.166,"annotated":75},{"topic":"moonlanding","n":44,"score":-0.166,"annotated":75},{"topic":"moonlanding","n":45,"score":-0.172,"annotated":75},{"topic":"moonlanding","n":46,"score":-0.183,"annotated":75},{"topic":"moonlanding","n":47,"score":-0.221,"annotated":75},{"topic":"moonlanding","n":48,"score":-0.204,"annotated":75},{"topic":"moonlanding","n":49,"score":-0.246,"annotated":75},
{"topic":"moonlanding","n":50,"score":-0.187,"annotated":75},{"topic":"moonlanding","n":51,"score":-0.305,"annotated":75},{"topic":"moonlanding","n":52,"score":-0.263,"annotated":75},{"topic":"moonlanding","n":53,"score":-0.298,"annotated":75},{"topic":"moonlanding","n":54,"score":-0.342,"annotated":50},{"topic":"moonlanding","n":55,"score":-0.210,"annotated":50},{"topic":"moonlanding","n":56,"score":-0.255,"annotated":75},{"topic":"moonlanding","n":57,"score":-0.263,"annotated":75},{"topic":"moonlanding","n":58,"score":-0.252,"annotated":75},{"topic":"moonlanding","n":59,"score":-0.297,"annotated":75},
{"topic":"moonlanding","n":60,"score":-0.259,"annotated":75},{"topic":"moonlanding","n":61,"score":-0.274,"annotated":75},{"topic":"moonlanding","n":62,"score":-0.267,"annotated":75},{"topic":"moonlanding","n":63,"score":-0.295,"annotated":75},{"topic":"moonlanding","n":64,"score":-0.295,"annotated":75},{"topic":"moonlanding","n":65,"score":-0.299,"annotated":75},{"topic":"moonlanding","n":66,"score":-0.314,"annotated":75},{"topic":"moonlanding","n":67,"score":-0.348,"annotated":80},{"topic":"moonlanding","n":68,"score":-0.307,"annotated":75},{"topic":"moonlanding","n":69,"score":-0.310,"annotated":75},
{"topic":"moonlanding","n":70,"score":-0.327,"annotated":75},{"topic":"moonlanding","n":71,"score":-0.280,"annotated":75},{"topic":"moonlanding","n":72,"score":-0.346,"annotated":80},{"topic":"moonlanding","n":73,"score":-0.307,"annotated":75},{"topic":"moonlanding","n":74,"score":-0.335,"annotated":75},{"topic":"moonlanding","n":75,"score":-0.307,"annotated":75},{"topic":"moonlanding","n":76,"score":-0.348,"annotated":80},{"topic":"moonlanding","n":77,"score":-0.310,"annotated":75},{"topic":"moonlanding","n":78,"score":-0.277,"annotated":80},{"topic":"moonlanding","n":79,"score":-0.327,"annotated":75},{"topic":"moonlanding","n":80,"score":-0.286,"annotated":90},

{"topic":"vaccines","n":0,"score":-0.032,"annotated":25},{"topic":"vaccines","n":1,"score":-0.020,"annotated":25},{"topic":"vaccines","n":2,"score":-0.117,"annotated":25},{"topic":"vaccines","n":3,"score":0.002,"annotated":25},{"topic":"vaccines","n":4,"score":-0.133,"annotated":25},{"topic":"vaccines","n":5,"score":-0.043,"annotated":25},{"topic":"vaccines","n":6,"score":-0.052,"annotated":25},{"topic":"vaccines","n":7,"score":-0.020,"annotated":25},{"topic":"vaccines","n":8,"score":-0.009,"annotated":25},{"topic":"vaccines","n":9,"score":0.031,"annotated":25},
{"topic":"vaccines","n":10,"score":0.036,"annotated":40},{"topic":"vaccines","n":11,"score":0.064,"annotated":40},{"topic":"vaccines","n":12,"score":0.057,"annotated":40},{"topic":"vaccines","n":13,"score":0.036,"annotated":40},{"topic":"vaccines","n":14,"score":0.087,"annotated":40},{"topic":"vaccines","n":15,"score":0.077,"annotated":40},{"topic":"vaccines","n":16,"score":0.064,"annotated":40},{"topic":"vaccines","n":17,"score":0.064,"annotated":40},{"topic":"vaccines","n":18,"score":0.064,"annotated":40},{"topic":"vaccines","n":19,"score":0.031,"annotated":30},
{"topic":"vaccines","n":20,"score":0.002,"annotated":30},{"topic":"vaccines","n":21,"score":-0.062,"annotated":30},{"topic":"vaccines","n":22,"score":-0.043,"annotated":30},{"topic":"vaccines","n":23,"score":-0.049,"annotated":30},{"topic":"vaccines","n":24,"score":-0.052,"annotated":30},{"topic":"vaccines","n":25,"score":-0.015,"annotated":30},{"topic":"vaccines","n":26,"score":-0.020,"annotated":30},{"topic":"vaccines","n":27,"score":0.063,"annotated":40},{"topic":"vaccines","n":28,"score":0.052,"annotated":40},{"topic":"vaccines","n":29,"score":0.042,"annotated":40},
{"topic":"vaccines","n":30,"score":0.102,"annotated":40},{"topic":"vaccines","n":31,"score":0.074,"annotated":40},{"topic":"vaccines","n":32,"score":0.072,"annotated":40},{"topic":"vaccines","n":33,"score":0.049,"annotated":40},{"topic":"vaccines","n":34,"score":-0.007,"annotated":30},{"topic":"vaccines","n":35,"score":0.014,"annotated":30},{"topic":"vaccines","n":36,"score":-0.019,"annotated":30},{"topic":"vaccines","n":37,"score":0.004,"annotated":30},{"topic":"vaccines","n":38,"score":0.059,"annotated":30},{"topic":"vaccines","n":39,"score":0.025,"annotated":30},
{"topic":"vaccines","n":40,"score":0.025,"annotated":30},{"topic":"vaccines","n":41,"score":-0.045,"annotated":30},{"topic":"vaccines","n":42,"score":-0.058,"annotated":30},{"topic":"vaccines","n":43,"score":-0.092,"annotated":30},{"topic":"vaccines","n":44,"score":-0.153,"annotated":30},{"topic":"vaccines","n":45,"score":-0.161,"annotated":30},{"topic":"vaccines","n":46,"score":-0.145,"annotated":30},{"topic":"vaccines","n":47,"score":-0.127,"annotated":30},{"topic":"vaccines","n":48,"score":-0.085,"annotated":30},{"topic":"vaccines","n":49,"score":-0.130,"annotated":30},
{"topic":"vaccines","n":50,"score":-0.120,"annotated":30},{"topic":"vaccines","n":51,"score":-0.110,"annotated":30},{"topic":"vaccines","n":52,"score":-0.095,"annotated":30},{"topic":"vaccines","n":53,"score":-0.096,"annotated":30},{"topic":"vaccines","n":54,"score":-0.105,"annotated":30},{"topic":"vaccines","n":55,"score":-0.133,"annotated":30},{"topic":"vaccines","n":56,"score":-0.110,"annotated":30},{"topic":"vaccines","n":57,"score":-0.145,"annotated":30},{"topic":"vaccines","n":58,"score":-0.155,"annotated":30},{"topic":"vaccines","n":59,"score":-0.133,"annotated":30},
{"topic":"vaccines","n":60,"score":-0.119,"annotated":30},{"topic":"vaccines","n":61,"score":-0.163,"annotated":30},{"topic":"vaccines","n":62,"score":-0.180,"annotated":30},{"topic":"vaccines","n":63,"score":-0.166,"annotated":30},{"topic":"vaccines","n":64,"score":-0.191,"annotated":30},{"topic":"vaccines","n":65,"score":-0.173,"annotated":30},{"topic":"vaccines","n":66,"score":-0.145,"annotated":30},{"topic":"vaccines","n":67,"score":-0.117,"annotated":30},{"topic":"vaccines","n":68,"score":-0.153,"annotated":30},{"topic":"vaccines","n":69,"score":-0.180,"annotated":30},
{"topic":"vaccines","n":70,"score":-0.233,"annotated":30},{"topic":"vaccines","n":71,"score":-0.133,"annotated":30},{"topic":"vaccines","n":72,"score":-0.145,"annotated":30},{"topic":"vaccines","n":73,"score":-0.136,"annotated":30},{"topic":"vaccines","n":74,"score":-0.111,"annotated":30},{"topic":"vaccines","n":75,"score":-0.111,"annotated":30},{"topic":"vaccines","n":76,"score":-0.145,"annotated":30},{"topic":"vaccines","n":77,"score":-0.123,"annotated":30},{"topic":"vaccines","n":78,"score":-0.133,"annotated":30},{"topic":"vaccines","n":79,"score":-0.123,"annotated":30}
]
},
"vconcat": [
{
  "width": 815, "height": 318,
  "title": {"text": "Top-10 recommendations – Mean annotation score by topic"},
  "data": {"name": "top"},
  "encoding": {
    "x": {"field": "n", "type": "quantitative", "scale": {"domain": [-2.95, 83.95], "nice": false, "zero": false}, "axis": {"values": [0,10,20,30,40,50,60,70,80], "format": "d", "title": "Number of watched seed videos"}},
    "y": {"field": "score", "type": "quantitative", "scale": {"domain": [-0.637, 0.648], "nice": false, "zero": false}, "axis": {"values": [-0.6,-0.4,-0.2,0,0.2,0.4,0.6], "format": ".1f", "title": "Annotation score (-1 is debunking and neutral, 1 is promoting)"}},
    "color": {"field": "topic", "type": "nominal", "scale": {"domain": ["911","chemtrails","flatearth","moonlanding","vaccines"], "range": ["#1f77b4","#ff7f0e","#2ca02c","#d62728","#9467bd"]}, "legend": {"title": "\u200b\u00a0\u00a0\u00a0\u00a0topic\u00a0\u00a0\u00a0\u00a0\u00a0\u00a0\u00a0\u00a0\u00a0\u00a0\u00a0\u00a0\u00a0\u00a0\u00a0\u00a0\u200b", "orient": "none", "legendX": 712, "legendY": 4, "symbolType": "circle", "symbolSize": 49, "symbolOpacity": 1, "symbolStrokeWidth": 0, "rowPadding": 4.75, "labelOffset": 6, "titlePadding": 5}}
  },
  "layer": [
    {"mark": {"type": "circle", "opacity": 0.5}, "encoding": {"size": {"field": "annotated", "type": "quantitative", "scale": {"domain": [0.5, 1.0], "range": [36, 196]}, "legend": {"title": "\u200b\u00a0\u00a0\u00a0\u00a0annotated\u00a0\u00a0\u00a0\u00a0\u00a0\u00a0\u00a0\u00a0\u200b", "orient": "none", "legendX": 712, "legendY": 92, "values": [0.5,0.6,0.7,0.8,0.9,1.0], "labelExpr": "format(datum.value, '.1f') + '\u00a0\u00a0\u00a0\u00a0\u00a0\u00a0\u00a0\u00a0\u00a0\u00a0\u00a0\u00a0\u00a0\u00a0\u00a0\u00a0\u00a0\u200b'", "gridAlign": "all", "symbolFillColor": "#333333", "symbolStrokeColor": "#333333", "symbolOpacity": 1, "rowPadding": -15.5, "labelOffset": 2, "titlePadding": 5}}}},
    {"mark": {"type": "line", "strokeWidth": 1.5}, "encoding": {}}
  ]
},
{
  "width": 815, "height": 317,
  "title": {"text": "Top-10 home page – Mean annotation score by topic"},
  "data": {"name": "bottom"},
  "encoding": {
    "x": {"field": "n", "type": "quantitative", "scale": {"domain": [-4, 84], "nice": false, "zero": false}, "axis": {"values": [0,10,20,30,40,50,60,70,80], "format": "d", "title": "Number of watched seed videos"}},
    "y": {"field": "score", "type": "quantitative", "scale": {"domain": [-0.383, 0.336], "nice": false, "zero": false}, "axis": {"values": [-0.3,-0.2,-0.1,0,0.1,0.2,0.3], "format": ".1f", "title": "Annotation score (-1 is debunking and neutral, 1 is promoting)"}},
    "color": {"field": "topic", "type": "nominal", "scale": {"domain": ["911","chemtrails","flatearth","moonlanding","vaccines"], "range": ["#1f77b4","#ff7f0e","#2ca02c","#d62728","#9467bd"]}, "legend": {"title": "\u200b\u00a0\u00a0\u00a0\u00a0topic\u00a0\u00a0\u00a0\u00a0\u00a0\u00a0\u00a0\u00a0\u00a0\u00a0\u00a0\u00a0\u00a0\u00a0\u00a0\u00a0\u200b", "orient": "none", "legendX": 712, "legendY": 4, "symbolType": "circle", "symbolSize": 49, "symbolOpacity": 1, "symbolStrokeWidth": 0, "rowPadding": 4.75, "labelOffset": 6, "titlePadding": 5}}
  },
  "layer": [
    {"mark": {"type": "circle", "opacity": 0.5}, "encoding": {"size": {"field": "annotated", "type": "quantitative", "scale": {"domain": [15, 95], "range": [4, 206]}, "legend": {"title": "\u200b\u00a0\u00a0\u00a0\u00a0annotated\u00a0\u00a0\u00a0\u00a0\u00a0\u00a0\u00a0\u00a0\u200b", "orient": "none", "legendX": 712, "legendY": 92, "values": [30,45,60,75,90], "labelExpr": "format(datum.value, 'd') + '\u00a0\u00a0\u00a0\u00a0\u00a0\u00a0\u00a0\u00a0\u00a0\u00a0\u00a0\u00a0\u00a0\u00a0\u00a0\u00a0\u00a0\u200b'", "gridAlign": "all", "symbolFillColor": "#333333", "symbolStrokeColor": "#333333", "symbolOpacity": 1, "rowPadding": -15.5, "labelOffset": 2, "titlePadding": 5}}}},
    {"mark": {"type": "line", "strokeWidth": 1.5}, "encoding": {}}
  ]
}
]
}
